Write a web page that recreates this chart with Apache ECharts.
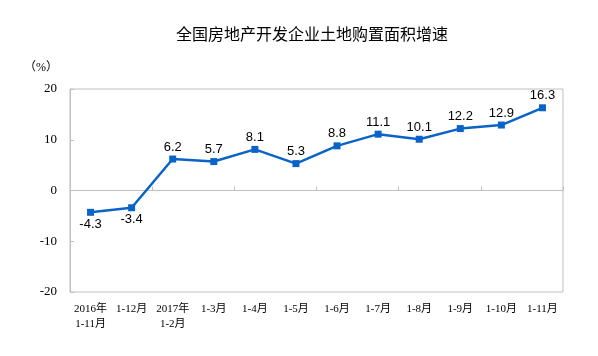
<!DOCTYPE html>
<html><head><meta charset="utf-8">
<script src="https://cdn.jsdelivr.net/npm/echarts@6/dist/echarts.min.js"></script>
<style>html,body{margin:0;padding:0;background:#fff}#c{width:598px;height:356px}</style>
</head><body><div id="c"></div>
<script>
const title = '全国房地产开发企业土地购置面积增速';
const categories = ['2016年\n1-11月','1-12月','2017年\n1-2月','1-3月','1-4月','1-5月','1-6月','1-7月','1-8月','1-9月','1-10月','1-11月'];
const values = [-4.3, -3.4, 6.2, 5.7, 8.1, 5.3, 8.8, 11.1, 10.1, 12.2, 12.9, 16.3];
const yMin = -20, yMax = 20, yInterval = 10;
const unitLabel = '（%）';

const chart = echarts.init(document.getElementById('c'), null, {renderer:'canvas'});
const serif = '"Liberation Serif","Noto Sans CJK SC",serif';
const sans = '"Liberation Sans","Noto Sans CJK SC",sans-serif';
chart.setOption({
  animation:false,
  backgroundColor:'#fff',
  title:{text:title,left:307,textAlign:'center',top:21,textStyle:{fontFamily:'"Noto Sans CJK SC",sans-serif',fontSize:16,fontWeight:'normal',color:'#000'}},
  graphic:[{type:'text',left:24,top:62,style:{text:unitLabel,font:'12px '+serif,fill:'#000'}}],
  grid:{left:70,right:35,top:89,bottom:64,show:true,borderColor:'#bfbfbf',borderWidth:1,containLabel:false},
  xAxis:[
    {type:'category',data:categories,boundaryGap:true,position:'bottom',
     axisLine:{show:false,onZero:false},axisTick:{show:false},
     axisLabel:{fontFamily:serif,fontSize:11,color:'#000',margin:10,lineHeight:15,interval:0,align:'center',verticalAlign:'top'}},
    {type:'category',data:categories,boundaryGap:true,position:'bottom',
     axisLine:{show:true,onZero:true,lineStyle:{color:'#bfbfbf',width:1}},
     axisTick:{show:true,inside:true,length:4,lineStyle:{color:'#bfbfbf'}},
     axisLabel:{show:false}}
  ],
  yAxis:{type:'value',min:yMin,max:yMax,interval:yInterval,
    axisLine:{show:true,lineStyle:{color:'#bfbfbf'}},
    axisTick:{show:true,inside:true,length:4,lineStyle:{color:'#bfbfbf'}},
    splitLine:{show:false},
    axisLabel:{fontFamily:serif,fontSize:13,color:'#000',margin:13}},
  series:[{type:'line',xAxisIndex:0,data:values.map(v=>({value:v,label:{position:v<0?'bottom':'top'}})),
    symbol:'rect',symbolSize:7,
    lineStyle:{color:'#0a64c8',width:2.5},itemStyle:{color:'#0a64c8'},
    label:{show:true,fontFamily:sans,fontSize:13,color:'#000',distance:2,formatter:p=>p.value.toFixed(1)}}]
});
</script></body></html>
